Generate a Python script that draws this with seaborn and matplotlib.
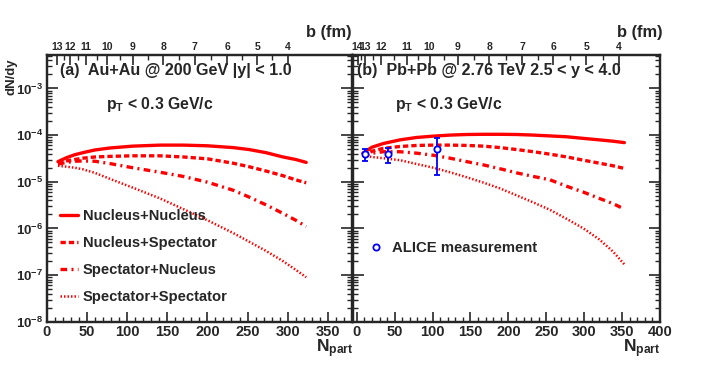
import numpy as np
import pandas as pd
import matplotlib
matplotlib.use("Agg")
import matplotlib.pyplot as plt
import seaborn as sns
from matplotlib.lines import Line2D

# ---- data ----
# (a) Au+Au 200 GeV
au_npart = [14, 25, 35, 45, 60, 79, 107, 141, 170, 200, 232, 252, 273, 294, 310, 323]
au_nn = [2.7e-5, 3.3e-5, 3.8e-5, 4.2e-5, 4.8e-5, 5.3e-5, 5.8e-5, 6.1e-5, 6.1e-5, 5.9e-5, 5.4e-5, 4.9e-5, 4.2e-5, 3.4e-5, 3.0e-5, 2.6e-5]
au_ns = [2.5e-5, 2.8e-5, 3.0e-5, 3.2e-5, 3.4e-5, 3.5e-5, 3.6e-5, 3.6e-5, 3.4e-5, 3.1e-5, 2.5e-5, 2.1e-5, 1.7e-5, 1.35e-5, 1.1e-5, 9.5e-6]
au_sn = [2.4e-5, 2.6e-5, 2.75e-5, 2.8e-5, 2.75e-5, 2.45e-5, 2.0e-5, 1.6e-5, 1.3e-5, 9.8e-6, 6.6e-6, 4.7e-6, 3.2e-6, 2.1e-6, 1.5e-6, 1.1e-6]
au_ss = [2.2e-5, 2.1e-5, 2.0e-5, 1.85e-5, 1.55e-5, 1.15e-5, 7.5e-6, 4.4e-6, 2.6e-6, 1.5e-6, 8.0e-7, 5.2e-7, 3.3e-7, 2.0e-7, 1.3e-7, 9.0e-8]

# (b) Pb+Pb 2.76 TeV
pb_npart = [8, 20, 35, 57, 79, 101, 123, 145, 167, 189, 211, 233, 255, 277, 299, 320, 338, 353]
pb_nn = [4.1e-5, 5.5e-5, 6.6e-5, 7.9e-5, 8.9e-5, 9.5e-5, 1.0e-4, 1.03e-4, 1.04e-4, 1.04e-4, 1.03e-4, 1.0e-4, 9.6e-5, 9.2e-5, 8.5e-5, 7.9e-5, 7.4e-5, 6.9e-5]
pb_ns = [3.6e-5, 4.5e-5, 5.2e-5, 5.7e-5, 6.0e-5, 6.1e-5, 6.1e-5, 6.0e-5, 5.8e-5, 5.4e-5, 4.9e-5, 4.4e-5, 3.9e-5, 3.4e-5, 2.9e-5, 2.5e-5, 2.2e-5, 1.93e-5]
pb_sn = [3.5e-5, 4.1e-5, 4.4e-5, 4.4e-5, 4.1e-5, 3.7e-5, 3.2e-5, 2.7e-5, 2.3e-5, 1.9e-5, 1.55e-5, 1.3e-5, 1.1e-5, 8.0e-6, 6.0e-6, 4.4e-6, 3.4e-6, 2.6e-6]
pb_ss = [3.6e-5, 3.4e-5, 3.2e-5, 2.9e-5, 2.4e-5, 2.0e-5, 1.6e-5, 1.25e-5, 9.6e-6, 7.2e-6, 5.1e-6, 3.6e-6, 2.5e-6, 1.6e-6, 1.0e-6, 5.8e-7, 3.2e-7, 1.7e-7]

# ALICE measurement
alice_npart = [11, 41, 106]
alice_val = [3.9e-5, 3.9e-5, 4.95e-5]
alice_lo = [2.8e-5, 2.55e-5, 1.39e-5]
alice_hi = [5.0e-5, 5.2e-5, 8.5e-5]

# impact parameter axis
au_b = [13, 12, 11, 10, 9, 8, 7, 6, 5, 4]
au_b_npart = [13, 29, 49, 75, 107, 145, 184, 225, 262, 300]
pb_b = [14, 13, 12, 11, 10, 9, 8, 7, 6, 5, 4]
pb_b_npart = [1, 11, 32, 66, 96, 133, 175, 218, 259, 303, 346]

labels = ["Nucleus+Nucleus", "Nucleus+Spectator", "Spectator+Nucleus", "Spectator+Spectator"]

# ---- style ----
sns.set_style("ticks")
plt.rcParams["font.family"] = ["Liberation Sans", "DejaVu Sans"]
plt.rcParams["font.weight"] = "bold"
plt.rcParams["mathtext.fontset"] = "custom"
plt.rcParams["mathtext.rm"] = "Liberation Sans:bold"
plt.rcParams["mathtext.it"] = "Liberation Sans:bold"
plt.rcParams["mathtext.bf"] = "Liberation Sans:bold"
plt.rcParams["mathtext.sf"] = "Liberation Sans:bold"
plt.rcParams["mathtext.default"] = "regular"

RED = "#ff0000"
BLUE = "#0000ff"
styles = [
    dict(lw=2.4, linestyle="-"),
    dict(lw=2.4, linestyle=(0, (1.6, 0.9))),
    dict(lw=2.4, linestyle=(0, (2.0, 1.3, 0.6, 1.3))),
    dict(lw=1.8, linestyle=(0, (0.6, 0.8))),
]

W, H = 706, 370
fig = plt.figure(figsize=(W / 100, H / 100), dpi=100)


def fx(px):
    return px / W


def fy(py):
    return 1 - py / H


axL = fig.add_axes([fx(46.7), fy(321.8), fx(352 - 46.7), (321.8 - 55) / H])
axR = fig.add_axes([fx(353), fy(321.8), fx(660 - 353), (321.8 - 55) / H])

panels = [
    (axL, au_npart, [au_nn, au_ns, au_sn, au_ss], (0, 380), au_b, au_b_npart),
    (axR, pb_npart, [pb_nn, pb_ns, pb_sn, pb_ss], (-5, 400), pb_b, pb_b_npart),
]

for ax, xs, ys, xlim, bvals, bpos in panels:
    for y, lab, st in zip(ys, labels, styles):
        sns.lineplot(x=xs, y=y, ax=ax, color=RED, label=lab, sort=False, **st)
    ax.set_yscale("log")
    ax.set_xlim(*xlim)
    ax.set_ylim(1e-8, 5.2e-3)
    ax.set_xticks(np.arange(0, xlim[1] + 1, 50))
    ax.set_xticks(np.arange(0, xlim[1] + 1, 10), minor=True)
    ax.set_yticks([1e-8, 1e-7, 1e-6, 1e-5, 1e-4, 1e-3])
    ax.tick_params(axis="both", which="major", direction="in", length=7, width=1.2,
                   top=False, right=True, labelsize=10.5, pad=2.5)
    ax.tick_params(axis="both", which="minor", direction="in", length=3.5, width=1.0,
                   top=False, right=True)
    ax.tick_params(axis="y", which="major", length=8, labelsize=9.5)
    for s in ax.spines.values():
        s.set_linewidth(1.6)
    ax.set_xlabel("")
    ax.set_ylabel("")
    ax.get_legend().remove()

    # impact parameter axis on top
    top = ax.twiny()
    top.set_xlim(*xlim)
    top.set_xticks(bpos)
    top.set_xticklabels([str(b) for b in bvals])
    top.set_xticks([(a + c) / 2 for a, c in zip(bpos[:-1], bpos[1:])], minor=True)
    top.tick_params(axis="x", which="major", direction="in", length=7, width=1.2,
                    labelsize=7.5, pad=2.5)
    top.tick_params(axis="x", which="minor", direction="in", length=3.5, width=1.0)
    for s in top.spines.values():
        s.set_linewidth(1.6)

axR.tick_params(axis="y", labelleft=False)

# ALICE points
axR.errorbar(alice_npart, alice_val,
             yerr=[np.array(alice_val) - np.array(alice_lo), np.array(alice_hi) - np.array(alice_val)],
             fmt="o", mfc="white", mec=BLUE, ms=4.5, mew=1.3, ecolor=BLUE, elinewidth=1.3,
             capsize=2, capthick=1.2, zorder=5)

# legends
handles = [Line2D([], [], color=RED, **st) for st in styles]
axL.legend(handles, labels, loc="upper left", bbox_to_anchor=(fx(60), fy(209)),
           bbox_transform=fig.transFigure, frameon=False, fontsize=10.6,
           handlelength=1.25, handletextpad=0.3, labelspacing=0.88, borderpad=0, borderaxespad=0)
alice_h = Line2D([], [], marker="o", ls="none", mfc="white", mec=BLUE, ms=4.5, mew=1.3)
axR.legend([alice_h], ["ALICE measurement"], loc="upper left", bbox_to_anchor=(fx(366), fy(241)),
           bbox_transform=fig.transFigure, frameon=False, fontsize=10.7,
           handlelength=1.4, handletextpad=0.35, borderpad=0, borderaxespad=0)

# texts
fig.text(fx(60), fy(71), "(a)  Au+Au @ 200 GeV |y| < 1.0", fontsize=11.6, va="center", ha="left")
fig.text(fx(106), fy(104), r"$p_{T}$ < 0.3 GeV/c", fontsize=11.3, va="center", ha="left")
fig.text(fx(357), fy(71), "(b)  Pb+Pb @ 2.76 TeV 2.5 < y < 4.0", fontsize=11.6, va="center", ha="left")
fig.text(fx(395), fy(104), r"$p_{T}$ < 0.3 GeV/c", fontsize=11.3, va="center", ha="left")
fig.text(fx(352), fy(32), "b (fm)", fontsize=11.8, va="center", ha="right")
fig.text(fx(663), fy(32), "b (fm)", fontsize=11.8, va="center", ha="right")
fig.text(fx(353), fy(337), r"$N_{part}$", fontsize=12.5, va="top", ha="right")
fig.text(fx(660), fy(337), r"$N_{part}$", fontsize=12.5, va="top", ha="right")
fig.text(fx(12), fy(58), "dN/dy", fontsize=9.5, rotation=90, va="top", ha="center")

fig.savefig("out.png", dpi=100)
